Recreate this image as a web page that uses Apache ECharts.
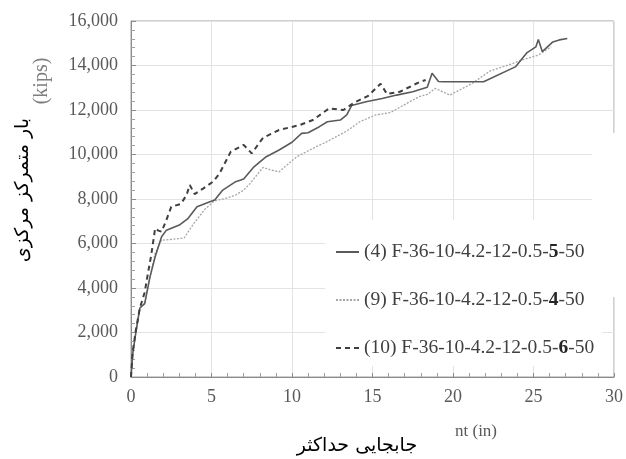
<!DOCTYPE html>
<html>
<head>
<meta charset="utf-8">
<script src="https://cdn.jsdelivr.net/npm/echarts@6/dist/echarts.min.js"></script>
<style>html,body{margin:0;padding:0;background:#fff}#c{width:626px;height:459px}</style>
</head>
<body>
<div id="c"></div>
<script>
// ---- data (displacement in, load kips) ----
const seriesNames = ["(4) F-36-10-4.2-12-0.5-5-50", "(9) F-36-10-4.2-12-0.5-4-50", "(10) F-36-10-4.2-12-0.5-6-50"];
const boldParts = ["5", "4", "6"];
const s4 = [[0,0],[0.1,1000],[0.3,2000],[0.55,3100],[0.85,3300],[1.18,4500],[1.5,5400],[1.9,6300],[2.2,6600],[3.0,6830],[3.55,7130],[4.1,7650],[4.9,7880],[5.2,7950],[5.7,8400],[6.5,8780],[7.0,8900],[7.6,9420],[8.4,9900],[9.2,10200],[10.0,10550],[10.6,10950],[11.0,10980],[11.7,11250],[12.2,11470],[13.0,11550],[13.4,11780],[13.7,12200],[14.6,12370],[15.6,12520],[16.5,12670],[17.5,12820],[18.4,13020],[18.7,13650],[19.1,13280],[19.4,13270],[21.9,13270],[23.9,13950],[24.6,14580],[25.15,14840],[25.3,15170],[25.55,14620],[26.2,15060],[26.6,15150],[27.1,15210]];
const s9 = [[0,0],[0.1,1000],[0.3,2000],[0.55,3100],[0.85,3300],[1.15,4400],[1.5,5550],[1.9,6150],[2.6,6190],[3.3,6250],[3.9,6900],[4.6,7550],[5.2,7920],[5.9,8030],[6.5,8180],[7.0,8400],[7.4,8700],[8.2,9420],[8.7,9300],[9.2,9220],[9.8,9600],[10.3,9900],[11.5,10350],[12.1,10550],[13.0,10900],[13.4,11050],[14.2,11470],[15.2,11780],[16.1,11880],[16.7,12120],[17.3,12370],[17.9,12600],[18.4,12700],[18.9,12970],[19.8,12670],[20.6,12970],[21.2,13200],[22.3,13750],[23.7,14090],[24.3,14250],[25.3,14470],[26.1,14840]];
const s10 = [[0,0],[0.1,1100],[0.3,2100],[0.55,3100],[0.85,3800],[1.05,4650],[1.25,5450],[1.5,6680],[1.7,6580],[1.9,6530],[2.2,7060],[2.5,7650],[3.1,7780],[3.45,8180],[3.65,8630],[3.95,8220],[4.5,8480],[5.1,8780],[5.5,9150],[6.2,10130],[7.0,10430],[7.5,10050],[8.2,10750],[9.2,11100],[10.5,11330],[11.3,11550],[12.3,12070],[13.2,12000],[13.9,12350],[14.7,12620],[15.5,13180],[15.9,12720],[16.7,12820],[17.9,13250],[18.3,13350]];
const xTicks = [0, 5, 10, 15, 20, 25, 30];
const yTicks = [0, 2000, 4000, 6000, 8000, 10000, 12000, 14000, 16000];
const yTitleFa = "بار متمرکز مرکزی";
const xTitleFa = "جابجایی حداکثر";
const yUnitFragment = "(kips)";
const xUnitFragment = "nt (in)";

const serif = "'Liberation Serif', 'DejaVu Serif', serif";
const chart = echarts.init(document.getElementById('c'), null, {renderer: 'canvas'});
const boldMap = {};
seriesNames.forEach((n, i) => boldMap[n] = boldParts[i]);

chart.setOption({
  animation: false,
  backgroundColor: '#fff',
  grid: {left: 131, right: 11, top: 21, bottom: 82, show: true, borderColor: '#a0a0a0', borderWidth: 1},
  xAxis: {
    type: 'value', min: xTicks[0], max: xTicks[xTicks.length - 1], interval: 5,
    axisLine: {show: true, lineStyle: {color: '#8c8c8c', width: 1}},
    axisTick: {show: true, inside: true, length: 4, lineStyle: {color: '#8c8c8c'}},
    minorTick: {show: true, splitNumber: 5, length: 4, lineStyle: {color: '#a0a0a0'}},
    axisLabel: {margin: 11, color: '#595959', fontFamily: serif, fontSize: 18},
    splitLine: {show: true, lineStyle: {color: '#e3e3e3', width: 1}}
  },
  yAxis: {
    type: 'value', min: yTicks[0], max: yTicks[yTicks.length - 1], interval: 2000,
    axisLine: {show: true, lineStyle: {color: '#8c8c8c', width: 1}},
    axisTick: {show: true, inside: true, length: 5, lineStyle: {color: '#8c8c8c'}},
    minorTick: {show: true, splitNumber: 5, length: 4, lineStyle: {color: '#a0a0a0'}},
    axisLabel: {margin: 13, color: '#595959', fontFamily: serif, fontSize: 18,
      formatter: v => v.toLocaleString('en-US')},
    splitLine: {show: true, lineStyle: {color: '#e3e3e3', width: 1}}
  },
  legend: {
    orient: 'vertical', left: 325, top: 220,
    padding: [22, 8, 8, 10],
    backgroundColor: '#fff',
    itemWidth: 23, itemHeight: 20, itemGap: 28,
    itemStyle: {opacity: 0, borderWidth: 0},
    data: seriesNames,
    formatter: name => {
      const b = boldMap[name];
      const idx = name.lastIndexOf('-' + b + '-');
      return name.slice(0, idx + 1) + '{b|' + b + '}' + name.slice(idx + 1 + b.length);
    },
    textStyle: {fontFamily: serif, fontSize: 19.5, color: '#404040', lineHeight: 20,
      rich: {b: {fontFamily: serif, fontSize: 19.5, fontWeight: 'bold', color: '#262626', lineHeight: 20}}}
  },
  series: [
    {name: seriesNames[0], type: 'line', data: s4, symbol: 'none', lineStyle: {color: '#5a5a5a', width: 1.6, type: 'solid'}, itemStyle: {color: '#5a5a5a'}, z: 3},
    {name: seriesNames[1], type: 'line', data: s9, symbol: 'none', lineStyle: {color: '#a6a6a6', width: 1.3, type: [2, 1.5]}, itemStyle: {color: '#a6a6a6'}, z: 2},
    {name: seriesNames[2], type: 'line', data: s10, symbol: 'none', lineStyle: {color: '#3f3f3f', width: 2, type: [5, 4]}, itemStyle: {color: '#3f3f3f'}, z: 4}
  ],
  graphic: [
    {type: 'rect', z: 100, shape: {x: 592, y: 133, width: 40, height: 164}, style: {fill: '#fff'}},
    {type: 'text', z: 101, x: 42, y: 81, rotation: Math.PI / 2,
      style: {text: yUnitFragment, fill: '#7f7f7f', font: "20px 'Liberation Serif', serif", textAlign: 'center', textVerticalAlign: 'middle'}},
    {type: 'text', z: 101, x: 23, y: 190, rotation: Math.PI / 2,
      style: {text: yTitleFa, fill: '#000', font: "19px 'DejaVu Sans', sans-serif", textAlign: 'center', textVerticalAlign: 'middle'}},
    {type: 'text', z: 101, x: 455, y: 432,
      style: {text: xUnitFragment, fill: '#595959', font: "17px 'Liberation Serif', serif", textAlign: 'left', textVerticalAlign: 'middle'}},
    {type: 'text', z: 101, x: 357, y: 446,
      style: {text: xTitleFa, fill: '#000', font: "19px 'DejaVu Sans', sans-serif", textAlign: 'center', textVerticalAlign: 'middle'}}
  ]
});
</script>
</body>
</html>
